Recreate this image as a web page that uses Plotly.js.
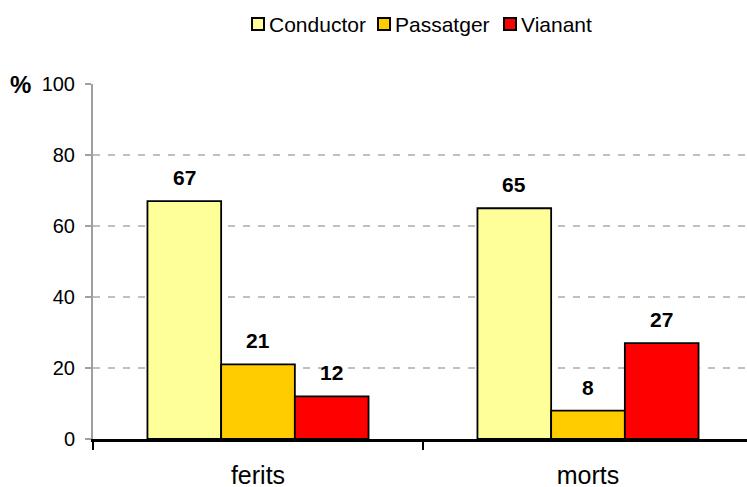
<!DOCTYPE html>
<html>
<head>
<meta charset="utf-8">
<script src="https://cdn.plot.ly/plotly-3.0.1.min.js"></script>
<style>html,body{margin:0;padding:0;background:#fff;}#chart{width:747px;height:487px;}</style>
</head>
<body>
<div id="chart"></div>
<script>
const categories = ["ferits", "morts"];
const seriesNames = ["Conductor", "Passatger", "Vianant"];
const conductor = [67, 65];
const passatger = [21, 8];
const vianant = [12, 27];
const yTicks = [0, 20, 40, 60, 80, 100];

const seriesValues = [conductor, passatger, vianant];
const colors = ["#FFFF99", "#FFCC00", "#FF0000"];
const bargap = 0.33;
const font = "Liberation Sans, Arial, sans-serif";

const traces = seriesValues.map((vals, i) => ({
  type: "bar",
  name: seriesNames[i],
  x: categories,
  y: vals,
  marker: {color: colors[i], line: {color: "#000", width: 1.8}},
  hoverinfo: "skip",
  showlegend: false
}));

const W = 747, H = 487;
const margin = {l: 93, r: 0, t: 84, b: 48, pad: 0};
const plotW = W - margin.l - margin.r;
const plotH = H - margin.t - margin.b;
const px2x = p => (p - margin.l) / plotW;
const px2y = p => (H - margin.b - p) / plotH;

const n = seriesValues.length;
const barW = (1 - bargap) / n;
const annotations = [];
const shapes = [];
seriesValues.forEach((vals, i) => {
  vals.forEach((v, j) => {
    annotations.push({
      x: j + (i - (n - 1) / 2) * barW, y: v, xref: "x", yref: "y",
      text: "<b>" + v + "</b>", showarrow: false,
      yanchor: "bottom", yshift: 10,
      font: {family: font, size: 21, color: "#000"}
    });
  });
});
annotations.push({
  x: px2x(20), xanchor: "center", y: 100, yanchor: "middle",
  xref: "paper", yref: "y", text: "<b>%</b>", showarrow: false,
  font: {family: font, size: 24, color: "#000"}
});

// legend (drawn as shapes + text to match the compact original spacing)
const legendBoxLeft = [252, 378, 504];
const legendBoxSize = 12;
const legendCy = 24;
seriesNames.forEach((name, i) => {
  const x0 = legendBoxLeft[i];
  shapes.push({
    type: "rect", xref: "paper", yref: "paper",
    x0: px2x(x0), x1: px2x(x0 + legendBoxSize),
    y0: px2y(legendCy - legendBoxSize / 2), y1: px2y(legendCy + legendBoxSize / 2),
    fillcolor: colors[i], line: {color: "#000", width: 2}
  });
  annotations.push({
    x: px2x(x0 + legendBoxSize + 3), xanchor: "left",
    y: px2y(legendCy), yanchor: "middle",
    xref: "paper", yref: "paper", text: name, showarrow: false,
    font: {family: font, size: 21, color: "#000"}
  });
});

const layout = {
  width: W, height: H,
  margin: margin,
  paper_bgcolor: "#fff", plot_bgcolor: "#fff",
  bargap: bargap, bargroupgap: 0,
  showlegend: false,
  xaxis: {
    type: "category",
    range: [-0.5, 1.5 - 6 / 330],
    showline: true, linecolor: "#000", linewidth: 2.5,
    ticks: "outside", tickson: "boundaries", ticklen: 8, tickcolor: "#000", tickwidth: 2,
    ticklabelstandoff: 12,
    showgrid: false, zeroline: false,
    tickfont: {family: font, size: 25, color: "#000"}
  },
  yaxis: {
    range: [0, 100], tickvals: yTicks, ticktext: yTicks.map(String),
    showline: true, linecolor: "#a0a0a0", linewidth: 2,
    ticks: "outside", ticklen: 6, tickcolor: "#a0a0a0", tickwidth: 2,
    ticklabelstandoff: 6,
    showgrid: true, gridcolor: "#c0c0c0", gridwidth: 2, griddash: "7px,8px",
    zeroline: false,
    tickfont: {family: font, size: 20, color: "#000"}
  },
  shapes: shapes,
  annotations: annotations
};

Plotly.newPlot("chart", traces, layout, {displayModeBar: false, staticPlot: true});
</script>
</body>
</html>
